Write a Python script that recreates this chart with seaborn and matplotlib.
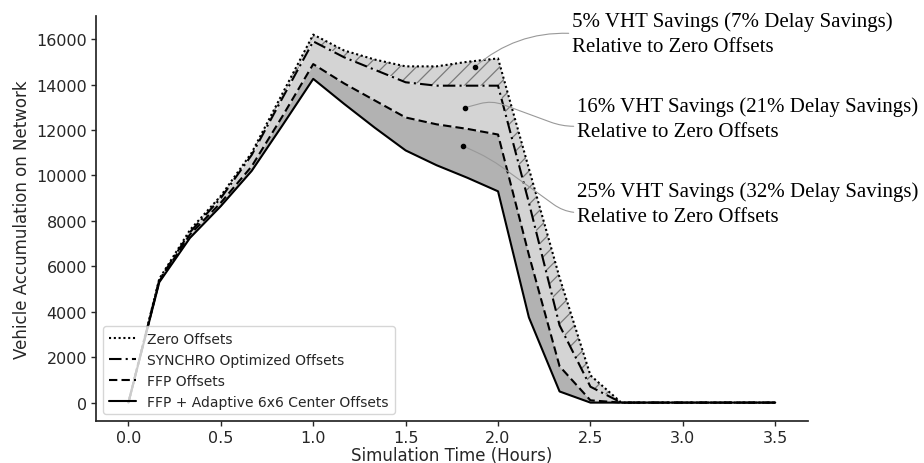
import numpy as np
import pandas as pd
import matplotlib.pyplot as plt
import seaborn as sns

# --- Data ---
hours = [0.0, 0.167, 0.333, 0.5, 0.667, 0.833, 1.0, 1.167, 1.333, 1.5, 1.667,
         1.833, 2.0, 2.167, 2.333, 2.5, 2.667, 2.833, 3.0, 3.167, 3.333, 3.5]
zero_offsets = [0, 5450, 7600, 9100, 11000, 13600, 16200, 15500, 15100, 14800, 14800,
                15000, 15150, 10300, 5500, 1200, 0, 0, 0, 0, 0, 0]
synchro_offsets = [0, 5400, 7500, 9000, 10900, 13400, 15900, 15200, 14650, 14100, 13950,
                   13950, 13950, 8800, 3400, 700, 0, 0, 0, 0, 0, 0]
ffp_offsets = [0, 5350, 7400, 8800, 10400, 12600, 14900, 14050, 13300, 12550, 12250,
               12050, 11800, 6500, 1600, 100, 0, 0, 0, 0, 0, 0]
ffp_adaptive = [0, 5300, 7250, 8650, 10200, 12200, 14250, 13150, 12100, 11100, 10450,
                9900, 9300, 3750, 490, 0, 0, 0, 0, 0, 0, 0]

series_labels = ["Zero Offsets", "SYNCHRO Optimized Offsets", "FFP Offsets",
                 "FFP + Adaptive 6x6 Center Offsets"]
series_styles = [(0, (1, 1.3)), (0, (6, 2, 1, 2)), (0, (4, 2)), "-"]

notes = ["5% VHT Savings (7% Delay Savings)\nRelative to Zero Offsets",
         "16% VHT Savings (21% Delay Savings)\nRelative to Zero Offsets",
         "25% VHT Savings (32% Delay Savings)\nRelative to Zero Offsets"]
note_points = [(1.876, 14790), (1.82, 12980), (1.81, 11300)]
note_text_pos = [(2.40, 16250), (2.427, 12500), (2.427, 8760)]

# --- Styling ---
sns.set_theme(style="ticks")
plt.rcParams["font.family"] = ["DejaVu Sans"]
plt.rcParams["hatch.linewidth"] = 0.9

fig, ax = plt.subplots(figsize=(9.24, 4.64), dpi=100)
fig.subplots_adjust(left=0.104, right=0.874, bottom=0.0905, top=0.963)

# shaded bands between the strategies
ax.fill_between(hours, zero_offsets, synchro_offsets, facecolor="#d4d4d4",
                hatch="//", edgecolor="#7a7a7a", linewidth=0, zorder=1)
ax.fill_between(hours, synchro_offsets, ffp_offsets, facecolor="#d4d4d4",
                linewidth=0, zorder=1)
ax.fill_between(hours, ffp_offsets, ffp_adaptive, facecolor="#b2b2b2",
                linewidth=0, zorder=1)

for vals, lbl, ls in zip([zero_offsets, synchro_offsets, ffp_offsets, ffp_adaptive],
                         series_labels, series_styles):
    sns.lineplot(x=hours, y=vals, ax=ax, color="black", linestyle=ls,
                 linewidth=1.5, label=lbl, zorder=3)

# annotations
connectors = ["arc3,rad=0.2",
              "arc,angleA=180,armA=15,angleB=15,armB=28,rad=12",
              "arc,angleA=180,armA=12,angleB=-25,armB=30,rad=14"]
relposes = [(0, 0.5), (0, 0.33), (0, 0.3)]
for txt, pt, tp, cs, rp in zip(notes, note_points, note_text_pos, connectors, relposes):
    ax.plot(*pt, "o", color="black", markersize=3, zorder=5)
    ax.annotate(txt, xy=pt, xytext=tp, ha="left", va="center",
                fontsize=15, family=["Liberation Serif", "DejaVu Serif"],
                color="black", linespacing=1.45, annotation_clip=False,
                arrowprops=dict(arrowstyle="-", color="#999999", lw=0.8,
                                shrinkA=0, shrinkB=0, relpos=rp,
                                connectionstyle=cs))

ax.set_xticks([0.0, 0.5, 1.0, 1.5, 2.0, 2.5, 3.0, 3.5])
ax.set_xlabel("Simulation Time (Hours)", fontsize=12, labelpad=1)
ax.set_ylabel("Vehicle Accumulation on Network", fontsize=12, labelpad=4)
ax.tick_params(labelsize=11.5, length=3.5, width=1, pad=3)
ax.legend(loc="lower left", fontsize=10, frameon=True)
sns.despine(ax=ax)

fig.savefig("out.png", dpi=100)
